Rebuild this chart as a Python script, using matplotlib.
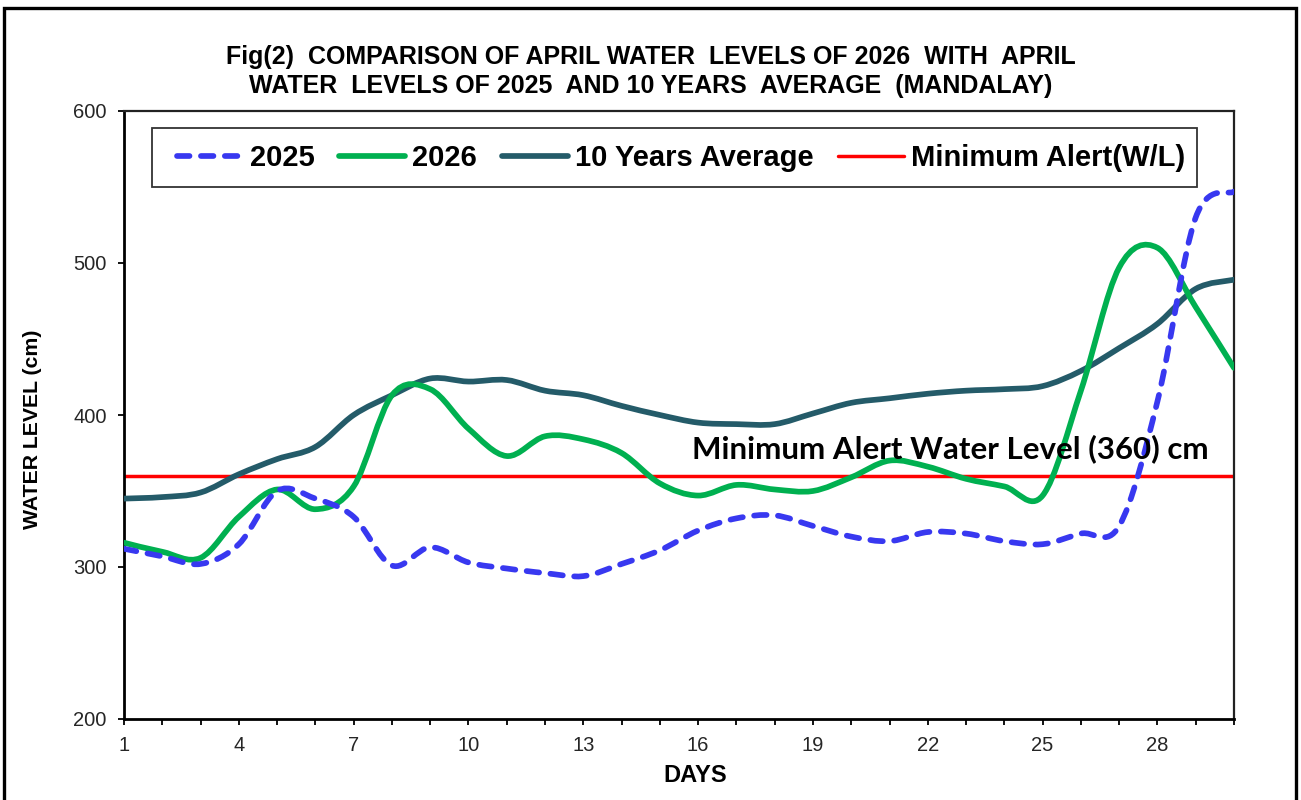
import matplotlib
matplotlib.use("Agg")
import matplotlib.pyplot as plt
from matplotlib.path import Path
from matplotlib.patches import PathPatch, Rectangle
from matplotlib.lines import Line2D

# ---------------- data ----------------
days = list(range(1, 31))
level_2025 = [312, 307, 302, 315, 350, 345, 333, 301, 313, 303, 299, 296, 294, 302, 311,
              324, 332, 334, 327, 320, 317, 323, 322, 317, 315, 322, 327, 409, 530, 547]
level_2026 = [316, 310, 306, 333, 351, 338, 353, 413, 417, 391, 373, 386, 384, 375, 355,
              347, 354, 351, 350, 359, 370, 366, 358, 353, 347, 416, 497, 510, 471, 431]
level_10yr = [345, 346, 349, 361, 371, 379, 400, 413, 424, 422, 423, 416, 413, 406, 400,
              395, 394, 394, 401, 408, 411, 414, 416, 417, 419, 429, 444, 460, 483, 489]
alert_level = 360
series_labels = ["2025", "2026", "10 Years Average", "Minimum Alert(W/L)"]
x_tick_labels = ["1", "4", "7", "10", "13", "16", "19", "22", "25", "28"]
y_ticks = [200, 300, 400, 500, 600]
title = ("Fig(2)  COMPARISON OF APRIL WATER  LEVELS OF 2026  WITH  APRIL\n"
         "WATER  LEVELS OF 2025  AND 10 YEARS  AVERAGE  (MANDALAY)")
annotation = "Minimum Alert Water Level (360) cm"

# ---------------- styles ----------------
C2025 = "#3838F0"
C2026 = "#00B050"
C10 = "#245B69"
CRED = "#FF0000"
LW = 4.1
DASH = (0, (2.2, 2.0))
W, H = 1301, 800
AX_L, AX_R, AX_T, AX_B = 124, 1234, 111, 719


def smooth_path(x, y):
    """Excel-like smoothed line: cubic Bezier segments through the points."""
    n = len(x)
    verts = [(x[0], y[0])]
    codes = [Path.MOVETO]
    for i in range(n - 1):
        xp, yp = (x[i - 1], y[i - 1]) if i > 0 else (x[i], y[i])
        xn, yn = (x[i + 2], y[i + 2]) if i + 2 < n else (x[i + 1], y[i + 1])
        c1 = (x[i] + (x[i + 1] - xp) / 6.0, y[i] + (y[i + 1] - yp) / 6.0)
        c2 = (x[i + 1] - (xn - x[i]) / 6.0, y[i + 1] - (yn - y[i]) / 6.0)
        verts += [c1, c2, (x[i + 1], y[i + 1])]
        codes += [Path.CURVE4] * 3
    return Path(verts, codes)


def ax_x(px):
    return (px - AX_L) / (AX_R - AX_L)


def ax_y(py):
    return (AX_B - py) / (AX_B - AX_T)


fig = plt.figure(figsize=(W / 100, H / 100), dpi=100)
fig.patch.set_facecolor("white")

# outer frame of the chart
fig.add_artist(Rectangle((4 / W, -0.05), 1292 / W, 1.05 - 8 / H,
                         transform=fig.transFigure, fill=False,
                         edgecolor="black", linewidth=2.4))

ax = fig.add_axes([AX_L / W, 1 - AX_B / H, (AX_R - AX_L) / W, (AX_B - AX_T) / H])
ax.set_xlim(1, 30)
ax.set_ylim(200, 600)

# red alert line
ax.axhline(alert_level, color=CRED, lw=2.5, zorder=2)

# smoothed series
ax.add_patch(PathPatch(smooth_path(days, level_10yr), fill=False, edgecolor=C10,
                       lw=LW, capstyle="round", joinstyle="round", zorder=3))
ax.add_patch(PathPatch(smooth_path(days, level_2026), fill=False, edgecolor=C2026,
                       lw=LW, capstyle="round", joinstyle="round", zorder=4))
ax.add_patch(PathPatch(smooth_path(days, level_2025), fill=False, edgecolor=C2025,
                       lw=LW, capstyle="round", joinstyle="round", linestyle=DASH,
                       zorder=5))

# ticks
ax.set_yticks(y_ticks)
ax.set_yticklabels([str(v) for v in y_ticks])
ax.set_xticks(days)
ax.set_xticklabels([str(d) if str(d) in x_tick_labels else "" for d in days])
ax.tick_params(axis="both", direction="out", length=4.5, width=1.3, color="black",
               labelsize=14.5, labelcolor="#262626")
ax.tick_params(axis="x", pad=8)
ax.tick_params(axis="y", pad=8)
for lab in ax.get_xticklabels() + ax.get_yticklabels():
    lab.set_fontfamily("Liberation Sans")

for side in ["left", "bottom"]:
    ax.spines[side].set_linewidth(2.0)
    ax.spines[side].set_color("black")
for side in ["top", "right"]:
    ax.spines[side].set_linewidth(1.6)
    ax.spines[side].set_color("#222222")

# legend (frame drawn separately to match the reference padding)
ax.add_patch(Rectangle((ax_x(152), ax_y(187)), ax_x(1197) - ax_x(152),
                       ax_y(128) - ax_y(187), transform=ax.transAxes,
                       facecolor="white", edgecolor="#333333", lw=1.3, zorder=9))
handles = [
    Line2D([], [], color=C2025, lw=LW, linestyle=DASH, dash_capstyle="round"),
    Line2D([], [], color=C2026, lw=LW, solid_capstyle="round"),
    Line2D([], [], color=C10, lw=LW, solid_capstyle="round"),
    Line2D([], [], color=CRED, lw=2.5, solid_capstyle="round"),
]
leg = ax.legend(handles, series_labels, ncol=4, loc="center left",
                bbox_to_anchor=(ax_x(177), ax_y(158)), borderaxespad=0,
                frameon=False, handlelength=2.26, handletextpad=0.24,
                columnspacing=0.85, borderpad=0,
                prop={"family": "Liberation Sans", "weight": "bold", "size": 21})
leg.set_zorder(10)

# annotation
ax.text(15.83, 378, annotation, fontsize=22.5, fontweight="bold", family="Lato",
        ha="left", va="center", color="black", zorder=6)

# titles / axis labels
fig.text(651 / W, 1 - 71.5 / H, title, ha="center", va="center",
         fontsize=18, fontweight="bold", family="Liberation Sans",
         linespacing=1.28)
fig.text(33 / W, 1 - 429 / H, "WATER LEVEL (cm)", rotation=90, ha="center",
         va="center", fontsize=15.3, fontweight="bold", family="Liberation Sans")
fig.text(695 / W, 1 - 775 / H, "DAYS", ha="center", va="center",
         fontsize=17, fontweight="bold", family="Liberation Sans")

fig.savefig("out.png", dpi=100)
